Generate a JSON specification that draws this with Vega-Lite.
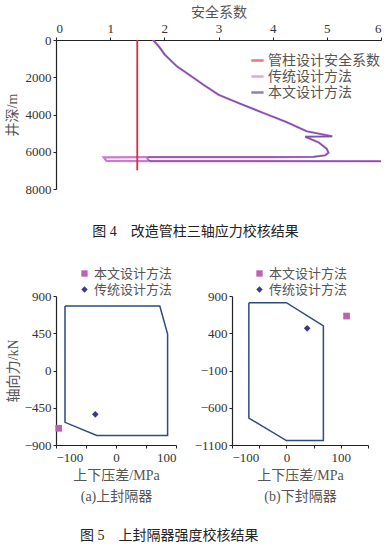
{
  "$schema": "https://vega.github.io/schema/vega-lite/v6.json",
  "padding": {"left": 5, "top": 5, "right": 0, "bottom": 0},
  "background": "white",
  "config": {
    "font": "Liberation Serif, Noto Sans CJK SC",
    "view": {"stroke": null},
    "axis": {"grid": false, "domainColor": "#222", "tickColor": "#222", "labelColor": "#333", "titleColor": "#555", "labelFontSize": 13, "titleFontSize": 14, "titleFontWeight": "normal", "tickSize": 3, "labelPadding": 2, "domainWidth": 1.2},
    "legend": {"labelFontSize": 13, "labelColor": "#555", "title": null},
    "title": {"fontWeight": "normal", "fontSize": 14, "color": "#222"}
  },
  "spacing": 107,
  "bounds": "flush",
  "resolve": {"scale": {"x": "independent", "y": "independent", "color": "independent", "shape": "independent"}},
  "vconcat": [
    {
      "width": 325,
      "height": 149,
      "title": {"text": "图 4　改造管柱三轴应力校核结果", "orient": "bottom", "anchor": "middle", "frame": "group", "offset": 29, "dx": -23, "fontSize": 14},
      "data": {"values": [
        {"series": "管柱设计安全系数", "o": 1, "x": 1.5, "depth": 0},
        {"series": "管柱设计安全系数", "o": 2, "x": 1.5, "depth": 7000},
        {"series": "传统设计方法", "o": 1, "x": 1.79, "depth": 0},
        {"series": "传统设计方法", "o": 2, "x": 1.9, "depth": 350},
        {"series": "传统设计方法", "o": 3, "x": 2.01, "depth": 790},
        {"series": "传统设计方法", "o": 4, "x": 2.23, "depth": 1410},
        {"series": "传统设计方法", "o": 5, "x": 2.5, "depth": 1950},
        {"series": "传统设计方法", "o": 6, "x": 2.72, "depth": 2400},
        {"series": "传统设计方法", "o": 7, "x": 3.0, "depth": 2940},
        {"series": "传统设计方法", "o": 8, "x": 3.4, "depth": 3420},
        {"series": "传统设计方法", "o": 9, "x": 3.83, "depth": 3920},
        {"series": "传统设计方法", "o": 10, "x": 4.25, "depth": 4400},
        {"series": "传统设计方法", "o": 11, "x": 4.63, "depth": 4900},
        {"series": "传统设计方法", "o": 12, "x": 5.1, "depth": 5170},
        {"series": "传统设计方法", "o": 13, "x": 4.6, "depth": 5190},
        {"series": "传统设计方法", "o": 14, "x": 4.85, "depth": 5500},
        {"series": "传统设计方法", "o": 15, "x": 5.0, "depth": 5850},
        {"series": "传统设计方法", "o": 16, "x": 5.03, "depth": 6050},
        {"series": "传统设计方法", "o": 17, "x": 4.97, "depth": 6190},
        {"series": "传统设计方法", "o": 18, "x": 4.75, "depth": 6270},
        {"series": "传统设计方法", "o": 19, "x": 4.0, "depth": 6285},
        {"series": "传统设计方法", "o": 20, "x": 1.72, "depth": 6290},
        {"series": "传统设计方法", "o": 21, "x": 0.88, "depth": 6300},
        {"series": "传统设计方法", "o": 22, "x": 0.93, "depth": 6495},
        {"series": "传统设计方法", "o": 23, "x": 1.75, "depth": 6505},
        {"series": "传统设计方法", "o": 24, "x": 6.1, "depth": 6510},
        {"series": "本文设计方法", "o": 1, "x": 1.79, "depth": 0},
        {"series": "本文设计方法", "o": 2, "x": 1.9, "depth": 350},
        {"series": "本文设计方法", "o": 3, "x": 2.01, "depth": 790},
        {"series": "本文设计方法", "o": 4, "x": 2.23, "depth": 1410},
        {"series": "本文设计方法", "o": 5, "x": 2.5, "depth": 1950},
        {"series": "本文设计方法", "o": 6, "x": 2.72, "depth": 2400},
        {"series": "本文设计方法", "o": 7, "x": 3.0, "depth": 2940},
        {"series": "本文设计方法", "o": 8, "x": 3.4, "depth": 3420},
        {"series": "本文设计方法", "o": 9, "x": 3.83, "depth": 3920},
        {"series": "本文设计方法", "o": 10, "x": 4.25, "depth": 4400},
        {"series": "本文设计方法", "o": 11, "x": 4.63, "depth": 4900},
        {"series": "本文设计方法", "o": 12, "x": 5.1, "depth": 5170},
        {"series": "本文设计方法", "o": 13, "x": 4.6, "depth": 5190},
        {"series": "本文设计方法", "o": 14, "x": 4.85, "depth": 5500},
        {"series": "本文设计方法", "o": 15, "x": 5.0, "depth": 5850},
        {"series": "本文设计方法", "o": 16, "x": 5.03, "depth": 6050},
        {"series": "本文设计方法", "o": 17, "x": 4.97, "depth": 6190},
        {"series": "本文设计方法", "o": 18, "x": 4.75, "depth": 6270},
        {"series": "本文设计方法", "o": 19, "x": 4.0, "depth": 6285},
        {"series": "本文设计方法", "o": 20, "x": 1.72, "depth": 6290},
        {"series": "本文设计方法", "o": 21, "x": 1.68, "depth": 6380},
        {"series": "本文设计方法", "o": 22, "x": 1.75, "depth": 6505},
        {"series": "本文设计方法", "o": 23, "x": 6.1, "depth": 6510}
      ]},
      "encoding": {
        "x": {"field": "x", "type": "quantitative", "scale": {"domain": [0, 6], "nice": false}, "axis": {"orient": "top", "values": [0, 1, 2, 3, 4, 5, 6], "title": "安全系数", "titlePadding": 3}},
        "y": {"field": "depth", "type": "quantitative", "scale": {"domain": [0, 8000], "reverse": true, "nice": false}, "axis": {"values": [0, 2000, 4000, 6000, 8000], "format": "d", "title": "井深/m", "titlePadding": 6}},
        "order": {"field": "o", "type": "quantitative"},
        "color": {"field": "series", "type": "nominal", "scale": {"domain": ["管柱设计安全系数", "传统设计方法", "本文设计方法"], "range": ["#d9303a", "#cc7acc", "#4a3e96"]}, "legend": {"orient": "none", "legendX": 194, "legendY": 13, "symbolType": "stroke", "symbolSize": 150, "symbolStrokeWidth": 2.5, "labelFontSize": 14, "rowPadding": 1, "labelOffset": 3}}
      },
      "layer": [
        {"transform": [{"filter": "datum.series === '传统设计方法'"}], "mark": {"type": "line", "strokeWidth": 2.2, "clip": true}},
        {"transform": [{"filter": "datum.series === '本文设计方法'"}], "mark": {"type": "line", "strokeWidth": 1.3, "opacity": 0.65, "clip": true}},
        {"transform": [{"filter": "datum.series === '管柱设计安全系数'"}], "mark": {"type": "line", "strokeWidth": 1.8}}
      ]
    },
    {
      "spacing": 56,
      "bounds": "flush",
      "title": {"text": "图 5　上封隔器强度校核结果", "orient": "bottom", "anchor": "middle", "offset": 26, "dx": -18, "fontSize": 14},
      "resolve": {"scale": {"x": "independent", "y": "independent", "color": "independent", "shape": "independent"}},
      "hconcat": [
        {
          "width": 120,
          "height": 149,
          "encoding": {
            "x": {"field": "x", "type": "quantitative", "scale": {"domain": [-100, 100], "nice": false}, "axis": {"values": [-100, -50, 0, 50, 100], "format": "d", "title": ["上下压差/MPa", "(a)上封隔器"], "titleLineHeight": 21, "titlePadding": 4, "labelPadding": 3}},
            "y": {"field": "y", "type": "quantitative", "scale": {"domain": [-900, 900], "nice": false}, "axis": {"values": [-900, -450, 0, 450, 900], "format": "d", "title": "轴向力/kN", "titlePadding": 4}}
          },
          "layer": [
            {
              "data": {"values": [
                {"o": 1, "x": -85, "y": 780},
                {"o": 2, "x": 73, "y": 780},
                {"o": 3, "x": 86, "y": 440},
                {"o": 4, "x": 86, "y": -786},
                {"o": 5, "x": -32, "y": -786},
                {"o": 6, "x": -85, "y": -626},
                {"o": 7, "x": -85, "y": 780}
              ]},
              "mark": {"type": "line", "color": "#2d4b7d", "strokeWidth": 1.5},
              "encoding": {"order": {"field": "o", "type": "quantitative"}}
            },
            {
              "data": {"values": [
                {"method": "本文设计方法", "x": -95.5, "y": -698},
                {"method": "传统设计方法", "x": -34.5, "y": -529}
              ]},
              "mark": {"type": "point", "filled": true, "size": 45, "opacity": 1},
              "encoding": {
                "shape": {"field": "method", "type": "nominal", "scale": {"domain": ["本文设计方法", "传统设计方法"], "range": ["square", "diamond"]}, "legend": {"orient": "none", "legendX": 22, "legendY": -29, "symbolSize": 40, "labelFontSize": 13, "rowPadding": 2, "labelOffset": 3}},
                "color": {"field": "method", "type": "nominal", "scale": {"domain": ["本文设计方法", "传统设计方法"], "range": ["#c060b0", "#3a3a8c"]}, "legend": {"orient": "none", "legendX": 22, "legendY": -29, "symbolSize": 40, "labelFontSize": 13, "rowPadding": 2, "labelOffset": 3}}
              }
            }
          ]
        },
        {
          "width": 136,
          "height": 149,
          "encoding": {
            "x": {"field": "x", "type": "quantitative", "scale": {"domain": [-100, 150], "nice": false}, "axis": {"values": [-100, -50, 0, 50, 100, 150], "format": "d", "title": ["上下压差/MPa", "(b)下封隔器"], "titleLineHeight": 21, "titlePadding": 4, "labelPadding": 3}},
            "y": {"field": "y", "type": "quantitative", "scale": {"domain": [-1100, 900], "nice": false}, "axis": {"values": [-1100, -600, -100, 400, 900], "format": "d", "title": null}}
          },
          "layer": [
            {
              "data": {"values": [
                {"o": 1, "x": -69, "y": 810},
                {"o": 2, "x": 0, "y": 810},
                {"o": 3, "x": 68, "y": 500},
                {"o": 4, "x": 68, "y": -1040},
                {"o": 5, "x": 0, "y": -1040},
                {"o": 6, "x": -69, "y": -740},
                {"o": 7, "x": -69, "y": 810}
              ]},
              "mark": {"type": "line", "color": "#2d4b7d", "strokeWidth": 1.5},
              "encoding": {"order": {"field": "o", "type": "quantitative"}}
            },
            {
              "data": {"values": [
                {"method": "本文设计方法", "x": 110.6, "y": 631},
                {"method": "传统设计方法", "x": 38.2, "y": 466}
              ]},
              "mark": {"type": "point", "filled": true, "size": 45, "opacity": 1},
              "encoding": {
                "shape": {"field": "method", "type": "nominal", "scale": {"domain": ["本文设计方法", "传统设计方法"], "range": ["square", "diamond"]}, "legend": {"orient": "none", "legendX": 21, "legendY": -29, "symbolSize": 40, "labelFontSize": 13, "rowPadding": 2, "labelOffset": 3}},
                "color": {"field": "method", "type": "nominal", "scale": {"domain": ["本文设计方法", "传统设计方法"], "range": ["#c060b0", "#3a3a8c"]}, "legend": {"orient": "none", "legendX": 21, "legendY": -29, "symbolSize": 40, "labelFontSize": 13, "rowPadding": 2, "labelOffset": 3}}
              }
            }
          ]
        }
      ]
    }
  ]
}
